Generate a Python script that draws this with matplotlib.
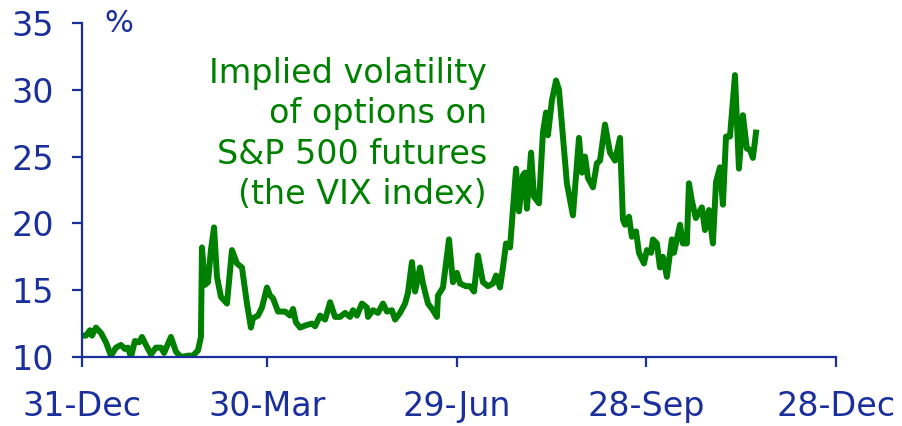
import numpy as np
import matplotlib.pyplot as plt

# VIX, days counted from 31-Dec-2006, values in %
days = [0, 1.9, 3.8, 4.8, 6.7, 9.1, 11.5, 13.9, 16.3, 18.7, 20.6, 22.1, 23.5,
        25.4, 27.4, 28.8, 30.7, 33.1, 35.5, 37.9, 39.4, 42.7, 45.1, 47.5, 50.9,
        53.3, 55.7, 57.1, 57.6, 59.0, 60.5, 61.9, 63.4, 64.8, 66.7, 69.6, 72.0,
        74.4, 76.8, 79.2, 81.1, 82.1, 84.5, 86.4, 88.8, 90.3, 91.7, 94.1, 97.5,
        99.9, 101.3, 102.7, 104.7, 108.0, 110.4, 111.9, 114.3, 116.7, 119.1,
        121.5, 123.9, 126.3, 128.7, 130.1, 132.0, 134.4, 136.8, 137.3, 139.7,
        142.1, 144.5, 146.4, 148.8, 150.3, 152.7, 155.1, 156.5, 158.4, 159.9,
        162.3, 163.7, 166.1, 168.5, 170.4, 170.9, 173.3, 176.2, 178.1, 180.0,
        181.5, 184.3, 186.3, 188.2, 190.1, 192.5, 194.9, 197.3, 198.8, 200.7,
        202.1, 203.6, 205.5, 206.9, 208.4, 209.8, 211.7, 212.7, 213.6, 215.6,
        217.0, 219.4, 221.3, 222.8, 223.7, 225.6, 227.6, 229.0, 230.9, 232.8,
        235.7, 238.6, 240.0, 241.5, 242.9, 245.3, 247.2, 248.7, 251.1, 253.5,
        255.9, 258.3, 259.7, 260.7, 262.6, 264.0, 266.0, 267.4, 269.8, 271.2,
        273.2, 274.1, 276.0, 277.5, 278.9, 280.8, 283.2, 284.2, 287.1, 288.5,
        290.4, 291.4, 292.8, 294.7, 297.6, 299.1, 301.0, 302.9, 304.4, 306.3,
        307.7, 309.2, 311.1, 313.5, 315.4, 317.3, 319.2, 320.7, 322.1, 323.6]
vix = [11.6, 11.6, 12.0, 11.6, 12.2, 11.8, 11.1, 10.1, 10.7, 10.9, 10.6, 10.7,
       10.0, 11.2, 11.1, 11.5, 10.9, 10.2, 10.7, 10.7, 10.3, 11.5, 10.4, 10.0,
       10.1, 10.1, 10.5, 11.5, 18.2, 15.4, 15.6, 18.0, 19.7, 16.0, 14.5, 14.0,
       18.0, 17.0, 16.7, 14.0, 12.2, 12.9, 13.1, 13.7, 15.2, 14.6, 14.4, 13.4,
       13.4, 13.1, 13.6, 12.6, 12.2, 12.4, 12.5, 12.3, 13.1, 12.8, 14.1, 13.0,
       13.0, 13.3, 13.0, 13.5, 13.1, 14.0, 13.7, 13.0, 13.5, 13.3, 14.0, 13.4,
       13.5, 12.8, 13.3, 14.0, 14.8, 17.1, 14.9, 16.7, 15.5, 14.0, 13.5, 13.0,
       14.6, 15.2, 18.8, 15.6, 16.3, 15.5, 15.3, 15.3, 14.9, 17.6, 15.6, 15.3,
       15.5, 16.1, 15.2, 16.7, 18.5, 18.2, 21.0, 24.1, 20.9, 23.6, 23.8, 21.1,
       25.3, 22.0, 21.5, 26.8, 28.3, 26.6, 29.2, 30.7, 30.0, 26.5, 23.0, 20.6,
       26.4, 23.8, 25.0, 23.4, 22.7, 24.5, 24.7, 27.4, 25.3, 24.7, 26.4, 20.3,
       19.9, 20.5, 19.0, 19.4, 17.8, 17.0, 18.0, 17.8, 18.8, 18.5, 16.7, 17.5,
       16.0, 18.8, 17.8, 19.9, 18.5, 18.5, 23.0, 21.7, 20.4, 21.2, 19.5, 21.0,
       18.5, 23.1, 24.2, 21.4, 26.5, 26.5, 31.1, 24.1, 28.1, 25.6, 25.5, 24.9,
       26.8]

tick_days = [0, 89, 180, 271, 362]
tick_labels = ["31-Dec", "30-Mar", "29-Jun", "28-Sep", "28-Dec"]
y_ticks = [10, 15, 20, 25, 30, 35]

blue = "#1a2f9c"
green = "#008000"

fig = plt.figure(figsize=(9.03, 4.26), dpi=100)
ax = fig.add_axes([0.0908, 0.162, 0.835, 0.784])

ax.plot(days, vix, color=green, lw=4.3, solid_joinstyle="round")

ax.set_xlim(0, 362)
ax.set_ylim(10, 35)
ax.set_xticks(tick_days)
ax.set_xticklabels(tick_labels)
ax.set_yticks(y_ticks)

for s in ["top", "right"]:
    ax.spines[s].set_visible(False)
for s in ["left", "bottom"]:
    ax.spines[s].set_color(blue)
    ax.spines[s].set_linewidth(1.6)
ax.tick_params(axis="x", colors=blue, labelsize=24, length=7, width=1.6, pad=17)
ax.tick_params(axis="y", colors=blue, labelsize=24, length=7, width=1.6, pad=13)

ax.text(0.03, 1.0, "%", transform=ax.transAxes, color=blue, fontsize=22,
        ha="left", va="center")
ax.text(194.5, 26.7, "Implied volatility\nof options on\nS&P 500 futures\n(the VIX index)",
        color=green, fontsize=24, ha="right", va="center",
        multialignment="right", linespacing=1.29)

fig.savefig("out.png", dpi=100)
